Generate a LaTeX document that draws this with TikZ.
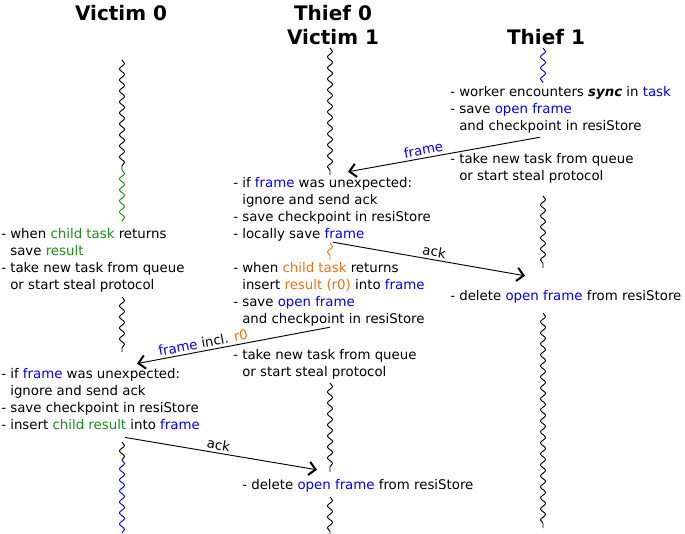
\documentclass[tikz,border=0pt]{standalone}
\usepackage{fontspec}
\setmainfont{DejaVu Sans}
\usetikzlibrary{decorations.pathmorphing,arrows.meta,calc}

\definecolor{childgreen}{RGB}{30,140,30}
\definecolor{childorange}{RGB}{235,115,25}
\newcommand{\cont}{\phantom{- }}
\newcommand{\fr}[1]{\textcolor{blue}{#1}}

\tikzset{
    worker/.style={font=\fontsize{15}{18}\selectfont\bfseries, align=center, inner sep=0pt},
    steps/.style={font=\fontsize{10}{12.75}\selectfont, align=left, anchor=west, inner sep=0pt},
    timeline/.style={decorate, decoration={snake, amplitude=1.9pt, segment length=8.25pt}, line width=0.7pt},
    msg/.style={-{Straight Barb[length=5pt, width=10pt, line width=1.5pt]}, line width=0.7pt},
    msglabel/.style={sloped, above, font=\fontsize{10}{12}\selectfont, inner sep=2pt}
}

\begin{document}
\begin{tikzpicture}[x=0.75pt, y=0.75pt]
    \useasboundingbox (0,0) rectangle (685,-534);
    \node[worker] (v0) at (121,-13) {Victim 0};
    \node[worker] (t0) at (333,-25) {Thief 0\\Victim 1};
    \node[worker] (t1) at (546,-37) {Thief 1};
    \node[steps] (t1a) at (450,-110)
        {- worker encounters \textbf{\textit{sync}} in \fr{task}\\- save \fr{open frame}\\\cont and checkpoint in resiStore};
    \node[steps] (t1b) at (450,-168.5)
        {- take new task from queue\\\cont or start steal protocol};
    \node[steps] (t0a) at (233,-209)
        {- if \fr{frame} was unexpected:\\\cont ignore and send ack\\- save checkpoint in resiStore\\- locally save \fr{frame}};
    \node[steps] (v0a) at (1,-260.5)
        {- when \textcolor{childgreen}{child task} returns\\\cont save \textcolor{childgreen}{result}\\- take new task from queue\\\cont or start steal protocol};
    \node[steps] (t0b) at (233,-294)
        {- when \textcolor{childorange}{child task} returns\\\cont insert \textcolor{childorange}{result (r0)} into \fr{frame}\\- save \fr{open frame}\\\cont and checkpoint in resiStore};
    \node[steps] (t1c) at (450,-297) {- delete \fr{open frame} from resiStore};
    \node[steps] (t0c) at (233,-364.5)
        {- take new task from queue\\\cont or start steal protocol};
    \node[steps] (v0b) at (1,-399)
        {- if \fr{frame} was unexpected:\\\cont ignore and send ack\\- save checkpoint in resiStore\\- insert \textcolor{childgreen}{child result} into \fr{frame}};
    \node[steps] (t0d) at (242,-486) {- delete \fr{open frame} from resiStore};

    \draw[timeline] (122,-60) -- (122,-170);
    \draw[timeline, childgreen] (122,-170) -- (122,-222);
    \draw[timeline] (122,-297) -- (122,-352);
    \draw[timeline] (122,-442) -- (122,-460);
    \draw[timeline, blue] (122,-460) -- (122,-533);
    \draw[timeline] (330,-48) -- (330,-175);
    \draw[timeline, childorange] (330,-243) -- (330,-260);
    \draw[timeline] (330,-383) -- (330,-472);
    \draw[timeline] (330,-497) -- (330,-534);
    \draw[timeline, blue] (543,-48) -- (543,-83);
    \draw[timeline] (543,-196) -- (543,-268);
    \draw[timeline] (543,-313) -- (543,-528);

    \draw[msg] ($(t1a.south west)+(90,-3.5)$) -- node[msglabel, pos=0.6] {\fr{frame}} ($(t0a.north west)+(115,5)$);
    \draw[msg] ($(t0a.south west)+(100,-1)$) -- node[msglabel, pos=0.52] {ack} ($(t1c.north west)+(75,14.5)$);
    \draw[msg] ($(t0b.south west)+(97,-1)$) -- node[msglabel, pos=0.65] {\fr{frame} incl. \textcolor{childorange}{r0}} ($(v0b.north west)+(136,4.5)$);
    \draw[msg] ($(v0b.south west)+(124,-7.5)$) -- node[msglabel, pos=0.48] {ack} ($(t0d.north west)+(75,9.5)$);
\end{tikzpicture}
\end{document}
